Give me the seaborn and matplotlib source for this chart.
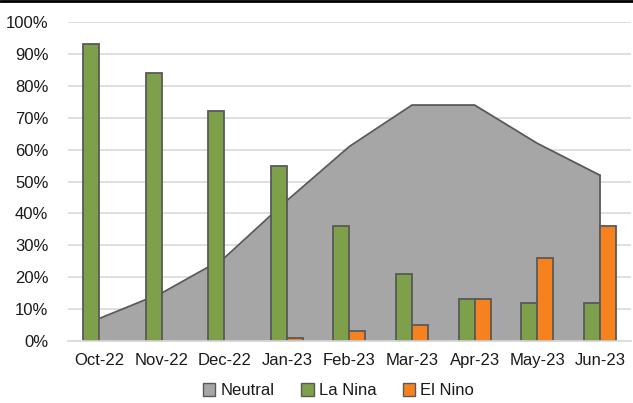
import matplotlib
matplotlib.use("Agg")
import matplotlib.pyplot as plt
from matplotlib.lines import Line2D
from matplotlib.patches import Patch
from matplotlib.ticker import FixedLocator, PercentFormatter
import numpy as np
import pandas as pd
import seaborn as sns

months = ["Oct-22", "Nov-22", "Dec-22", "Jan-23", "Feb-23", "Mar-23", "Apr-23", "May-23", "Jun-23"]
neutral = [7, 15, 26, 44, 61, 74, 74, 62, 52]
la_nina = [93, 84, 72, 55, 36, 21, 13, 12, 12]
el_nino = [0, 0, 0, 1, 3, 5, 13, 26, 36]

C_NEUTRAL = "#A6A6A6"
C_LANINA = "#7FA04A"
C_ELNINO = "#F5821F"
EDGE = "#595959"

sns.set_theme(style="white")
plt.rcParams["font.family"] = ["Liberation Sans", "DejaVu Sans"]
plt.rcParams["text.color"] = "#1a1a1a"

fig = plt.figure(figsize=(6.33, 4.03), dpi=100)
ax = fig.add_axes([0.107, 0.154, 0.89, 0.791])

bars = pd.DataFrame({
    "month": months * 2,
    "value": la_nina + el_nino,
    "phase": ["La Nina"] * len(months) + ["El Nino"] * len(months),
})

x = np.arange(len(months))
ax.fill_between(x, 0, neutral, color=C_NEUTRAL, zorder=1, linewidth=0)
ax.plot(x, neutral, color=EDGE, linewidth=1.3, zorder=1.5)
ax.plot([x[-1], x[-1]], [0, neutral[-1]], color=EDGE, linewidth=1.3, zorder=1.5)

sns.barplot(data=bars, x="month", y="value", hue="phase",
            palette={"La Nina": C_LANINA, "El Nino": C_ELNINO},
            saturation=1, width=0.51, gap=0, edgecolor=EDGE, linewidth=1.3,
            legend=False, ax=ax, zorder=3)

# zero-valued bars should leave no outline on the axis
for patch in ax.patches:
    if patch.get_height() == 0:
        patch.set_visible(False)

ax.set_xlim(-0.5, len(months) - 0.5)
ax.set_ylim(0, 100)
ax.set_yticks(np.arange(0, 101, 10))
ax.yaxis.set_major_formatter(PercentFormatter(decimals=0))
ax.yaxis.grid(True, color="#D9D9D9", linewidth=1.2, zorder=0)
ax.set_axisbelow(True)
ax.set_xlabel("")
ax.set_ylabel("")

for side in ["top", "right", "left"]:
    ax.spines[side].set_visible(False)
ax.spines["bottom"].set_color("#D9D9D9")
ax.spines["bottom"].set_linewidth(1.2)
ax.spines["bottom"].set_zorder(4)

ax.xaxis.set_minor_locator(FixedLocator(np.arange(-0.5, len(months), 1.0)))
ax.tick_params(axis="x", which="major", length=0, pad=9, labelsize=12, labelcolor="#1a1a1a")
ax.tick_params(axis="x", which="minor", length=5, width=1.2, color="#D9D9D9")
ax.tick_params(axis="y", length=0, pad=14, labelsize=12, labelcolor="#1a1a1a")

handles = [
    Patch(facecolor=C_NEUTRAL, edgecolor=EDGE, linewidth=1.0, label="Neutral"),
    Patch(facecolor=C_LANINA, edgecolor=EDGE, linewidth=1.0, label="La Nina"),
    Patch(facecolor=C_ELNINO, edgecolor=EDGE, linewidth=1.0, label="El Nino"),
]
fig.legend(handles=handles, loc="center", bbox_to_anchor=(0.535, 0.03),
           ncol=3, frameon=False, fontsize=12, handlelength=0.75, handleheight=0.75,
           handletextpad=0.3, columnspacing=1.6, borderpad=0.1)

fig.add_artist(Line2D([0, 1], [0.998, 0.998], color="black", linewidth=2.0))

fig.savefig("out.png", dpi=100)
